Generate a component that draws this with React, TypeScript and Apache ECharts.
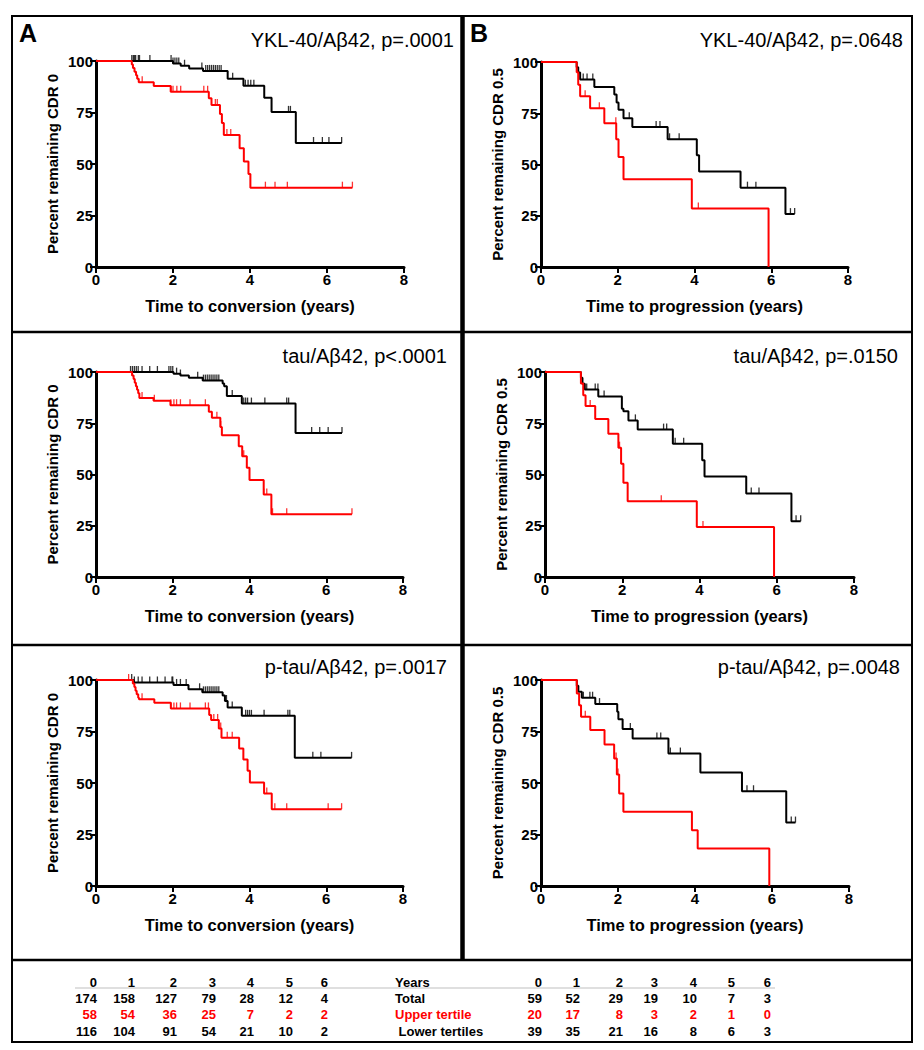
import React, { useEffect, useRef } from "react";
import * as echarts from "echarts";

type Pt = [number, number];

// ---------- Kaplan-Meier step points [years, percent] ----------
// Panel A (CDR 0 -> conversion)
const yklCdr0Lower: Pt[] = [[0, 100], [2.0, 98.8], [2.2, 97.7], [2.42, 96.4], [2.78, 95.2], [3.42, 91.4], [3.83, 88.0], [4.37, 82.2], [4.56, 75.3], [5.19, 60.2], [6.38, 60.2]];
const yklCdr0LowerCens: number[] = [0.93, 0.97, 1.0, 1.03, 1.1, 1.13, 1.4, 1.95, 2.0, 2.05, 2.1, 2.15, 2.3, 2.75, 2.85, 2.9, 2.95, 3.0, 3.05, 3.1, 3.15, 3.2, 3.25, 3.55, 3.88, 3.95, 4.02, 4.1, 5.0, 5.05, 5.65, 5.88, 6.05, 6.38];
const yklCdr0Upper: Pt[] = [[0, 100], [0.93, 98.3], [0.96, 96.6], [1.0, 94.8], [1.04, 93.1], [1.07, 91.4], [1.11, 89.7], [1.5, 87.9], [1.94, 85.1], [2.93, 81.9], [3.0, 78.6], [3.22, 74.3], [3.27, 69.9], [3.32, 64.1], [3.73, 57.6], [3.84, 51.2], [3.96, 45.1], [4.01, 38.5], [6.66, 38.5]];
const yklCdr0UpperCens: number[] = [1.2, 1.95, 2.0, 2.1, 2.2, 2.8, 2.9, 3.1, 3.15, 3.4, 3.5, 4.4, 4.65, 4.97, 6.4, 6.66];

const tauCdr0Lower: Pt[] = [[0, 100], [2.02, 99.2], [2.2, 98.3], [2.42, 97.2], [2.78, 95.8], [3.3, 94.4], [3.34, 93.1], [3.41, 88.3], [3.8, 84.6], [5.2, 70.2], [6.41, 70.2]];
const tauCdr0LowerCens: number[] = [0.9, 0.95, 1.0, 1.05, 1.1, 1.2, 1.4, 1.6, 1.9, 1.95, 2.0, 2.1, 2.2, 2.65, 2.8, 2.85, 2.9, 2.95, 3.0, 3.05, 3.1, 3.15, 3.2, 3.55, 3.85, 3.9, 3.95, 4.05, 4.4, 4.97, 5.02, 5.62, 5.83, 6.05, 6.41];
const tauCdr0Upper: Pt[] = [[0, 100], [0.94, 98.3], [0.98, 96.6], [1.01, 94.8], [1.04, 93.1], [1.07, 91.4], [1.1, 89.6], [1.13, 87.3], [1.5, 86.0], [1.94, 83.8], [2.94, 80.6], [3.02, 77.7], [3.24, 73.2], [3.28, 69.2], [3.72, 63.8], [3.81, 58.9], [3.93, 53.3], [4.0, 47.3], [4.37, 40.3], [4.57, 30.6], [6.67, 30.6]];
const tauCdr0UpperCens: number[] = [1.2, 1.52, 1.95, 2.03, 2.1, 2.2, 2.45, 2.85, 3.15, 3.25, 3.85, 4.37, 4.45, 4.6, 4.97, 6.67];

const ptauCdr0Lower: Pt[] = [[0, 100], [0.98, 98.8], [2.02, 97.6], [2.41, 95.5], [2.77, 94.0], [3.3, 92.5], [3.36, 89.8], [3.43, 86.6], [3.8, 82.6], [5.18, 62.2], [6.66, 62.2]];
const ptauCdr0LowerCens: number[] = [0.93, 1.0, 1.1, 1.2, 1.4, 1.6, 1.8, 1.98, 2.0, 2.1, 2.2, 2.35, 2.7, 2.8, 2.85, 2.9, 2.95, 3.0, 3.05, 3.1, 3.15, 3.2, 3.4, 3.55, 3.9, 3.95, 4.0, 4.05, 4.38, 5.0, 5.05, 5.65, 5.86, 6.66];
const ptauCdr0Upper: Pt[] = [[0, 100], [0.96, 98.3], [1.0, 96.6], [1.03, 94.8], [1.06, 93.1], [1.1, 91.4], [1.12, 90.6], [1.52, 89.0], [1.95, 86.2], [2.95, 83.0], [3.0, 80.6], [3.2, 76.5], [3.27, 72.0], [3.73, 66.8], [3.84, 61.4], [3.95, 55.9], [4.01, 50.2], [4.38, 44.9], [4.58, 37.3], [6.4, 37.3]];
const ptauCdr0UpperCens: number[] = [0.85, 1.2, 1.95, 2.03, 2.1, 2.2, 2.45, 2.85, 2.93, 3.07, 3.17, 3.25, 3.42, 3.55, 4.45, 4.66, 4.97, 6.05, 6.4];

// Panel B (CDR 0.5 -> progression)
const yklCdr05Lower: Pt[] = [[0, 100], [0.93, 97.4], [0.97, 94.9], [1.02, 91.5], [1.39, 87.8], [1.91, 84.2], [1.97, 80.2], [2.02, 76.7], [2.15, 72.6], [2.38, 68.3], [3.3, 62.3], [4.06, 54.5], [4.12, 46.6], [5.2, 38.7], [6.37, 25.8], [6.61, 25.8]];
const yklCdr05LowerCens: number[] = [1.1, 1.2, 1.35, 2.3, 3.0, 3.1, 3.35, 3.6, 5.38, 5.6, 6.5, 6.61];
const yklCdr05Upper: Pt[] = [[0, 100], [0.93, 95.0], [0.97, 88.9], [1.02, 83.3], [1.28, 77.4], [1.65, 70.1], [1.96, 62.3], [2.02, 53.6], [2.15, 42.8], [3.93, 28.5], [5.93, 0]];
const yklCdr05UpperCens: number[] = [1.15, 1.52, 1.95, 4.1];

const tauCdr05Lower: Pt[] = [[0, 100], [0.93, 97.2], [0.97, 94.3], [1.03, 91.5], [1.38, 88.1], [1.99, 82.1], [2.03, 80.8], [2.16, 76.4], [2.4, 71.9], [3.31, 65.0], [4.07, 56.9], [4.13, 49.0], [5.21, 40.7], [6.38, 27.2], [6.62, 27.2]];
const tauCdr05LowerCens: number[] = [1.08, 1.3, 1.37, 1.53, 2.34, 3.07, 3.15, 3.37, 3.59, 5.34, 5.54, 6.5, 6.62];
const tauCdr05Upper: Pt[] = [[0, 100], [0.93, 94.4], [0.99, 88.6], [1.05, 83.4], [1.3, 77.1], [1.64, 69.9], [1.9, 63.1], [1.97, 55.3], [2.03, 46.0], [2.14, 36.9], [3.93, 24.4], [5.93, 0]];
const tauCdr05UpperCens: number[] = [1.17, 1.93, 3.01, 4.09];

const ptauCdr05Lower: Pt[] = [[0, 100], [0.93, 97.2], [0.97, 94.3], [1.06, 91.4], [1.41, 88.3], [1.98, 84.6], [2.01, 80.9], [2.12, 76.2], [2.38, 71.6], [3.31, 64.3], [4.14, 55.1], [5.22, 46.0], [6.37, 30.8], [6.61, 30.8]];
const ptauCdr05LowerCens: number[] = [1.1, 1.27, 1.34, 1.52, 2.32, 3.01, 3.11, 3.36, 3.62, 5.35, 5.52, 6.5, 6.61];
const ptauCdr05Upper: Pt[] = [[0, 100], [0.93, 93.5], [0.99, 87.8], [1.04, 82.2], [1.28, 75.7], [1.65, 68.7], [1.9, 61.9], [1.97, 54.1], [2.03, 44.9], [2.14, 36.0], [3.92, 27.1], [4.07, 18.2], [5.93, 0]];
const ptauCdr05UpperCens: number[] = [1.15, 1.95, 2.0];

// ---------- Texts ----------
const panelTitles = ["YKL-40/Aβ42, p=.0001", "YKL-40/Aβ42, p=.0648", "tau/Aβ42, p<.0001", "tau/Aβ42, p=.0150", "p-tau/Aβ42, p=.0017", "p-tau/Aβ42, p=.0048"];
const yNameA = "Percent remaining CDR 0";
const yNameB = "Percent remaining CDR 0.5";
const xNameA = "Time to conversion (years)";
const xNameB = "Time to progression (years)";

// ---------- Numbers at risk ----------
const years = [0, 1, 2, 3, 4, 5, 6];
const cdr0Total = [174, 158, 127, 79, 28, 12, 4];
const cdr0Upper = [58, 54, 36, 25, 7, 2, 2];
const cdr0Lower = [116, 104, 91, 54, 21, 10, 2];
const cdr05Total = [59, 52, 29, 19, 10, 7, 3];
const cdr05Upper = [20, 17, 8, 3, 2, 1, 0];
const cdr05Lower = [39, 35, 21, 16, 8, 6, 3];
const rowLabels = ["Years", "Total", "Upper tertile", " Lower tertiles"];

// ---------- Layout ----------
const FONT = "'Liberation Sans', Arial, sans-serif";
const RED = "#ff0000";
const grids = [
  { left: 96, top: 61, width: 308, height: 206 },
  { left: 541, top: 62, width: 307, height: 205 },
  { left: 96, top: 372, width: 307, height: 205 },
  { left: 545, top: 372, width: 309, height: 205 },
  { left: 96, top: 680, width: 307, height: 206 },
  { left: 541, top: 680, width: 308, height: 206 },
];
const titlePos = [[454, 40], [903, 40], [447, 356], [898, 356], [447, 667], [900, 667]];
const colLeft = [97, 135, 177, 216, 254, 293, 328];
const colRight = [542, 580, 623, 658, 697, 735, 771];
const rowY = [982, 998, 1014, 1031];

function levelAt(curve: Pt[], t: number): number {
  let v = curve[0][1];
  for (const [x, y] of curve) {
    if (x <= t) v = y;
    else break;
  }
  return v;
}

const panels = [
  { lower: yklCdr0Lower, lowerC: yklCdr0LowerCens, upper: yklCdr0Upper, upperC: yklCdr0UpperCens, yName: yNameA, xName: xNameA },
  { lower: yklCdr05Lower, lowerC: yklCdr05LowerCens, upper: yklCdr05Upper, upperC: yklCdr05UpperCens, yName: yNameB, xName: xNameB },
  { lower: tauCdr0Lower, lowerC: tauCdr0LowerCens, upper: tauCdr0Upper, upperC: tauCdr0UpperCens, yName: yNameA, xName: xNameA },
  { lower: tauCdr05Lower, lowerC: tauCdr05LowerCens, upper: tauCdr05Upper, upperC: tauCdr05UpperCens, yName: yNameB, xName: xNameB },
  { lower: ptauCdr0Lower, lowerC: ptauCdr0LowerCens, upper: ptauCdr0Upper, upperC: ptauCdr0UpperCens, yName: yNameA, xName: xNameA },
  { lower: ptauCdr05Lower, lowerC: ptauCdr05LowerCens, upper: ptauCdr05Upper, upperC: ptauCdr05UpperCens, yName: yNameB, xName: xNameB },
];

function buildOption() {
  const axisCommon = {
    axisLine: { show: true, onZero: false, lineStyle: { color: "#000", width: 3 } },
    axisTick: { show: true, length: 6, lineStyle: { color: "#000", width: 2 } },
    axisLabel: { color: "#000", fontWeight: "bold", fontSize: 15, fontFamily: FONT },
    splitLine: { show: false },
    nameLocation: "middle",
  };
  const xAxis = panels.map((p, i) => ({
    ...axisCommon,
    type: "value",
    gridIndex: i,
    min: 0,
    max: 8,
    interval: 2,
    name: p.xName,
    nameGap: 30,
    nameTextStyle: { color: "#000", fontWeight: "bold", fontSize: 16.5, fontFamily: FONT },
    axisLabel: { ...axisCommon.axisLabel, margin: 5 },
  }));
  const yAxis = panels.map((p, i) => ({
    ...axisCommon,
    type: "value",
    gridIndex: i,
    min: 0,
    max: 100,
    interval: 25,
    name: p.yName,
    nameGap: 36,
    nameTextStyle: { color: "#000", fontWeight: "bold", fontSize: 15, fontFamily: FONT },
    axisLabel: { ...axisCommon.axisLabel, margin: 3 },
  }));
  const series: any[] = [];
  panels.forEach((p, i) => {
    const mk = (curve: Pt[], cens: number[], color: string) => {
      series.push({
        type: "line",
        xAxisIndex: i,
        yAxisIndex: i,
        data: curve,
        step: "end",
        showSymbol: false,
        symbol: "none",
        clip: false,
        lineStyle: { color, width: 2 },
        z: color === RED ? 4 : 3,
      });
      series.push({
        type: "scatter",
        xAxisIndex: i,
        yAxisIndex: i,
        data: cens.map((t) => [t, levelAt(curve, t)]),
        symbol: "rect",
        symbolSize: [1.3, 6],
        symbolOffset: [0, -3],
        clip: false,
        itemStyle: { color },
        z: color === RED ? 4 : 3,
      });
    };
    mk(p.lower, p.lowerC, "#000");
    mk(p.upper, p.upperC, RED);
  });

  const graphic: any[] = [];
  const ln = (x1: number, y1: number, x2: number, y2: number, w: number, color = "#000") =>
    graphic.push({ type: "line", shape: { x1, y1, x2, y2 }, style: { stroke: color, lineWidth: w }, silent: true });
  graphic.push({ type: "rect", shape: { x: 12, y: 16, width: 900, height: 1026 }, style: { fill: "none", stroke: "#000", lineWidth: 2 }, silent: true });
  ln(462.5, 16, 462.5, 960, 4.5);
  ln(12, 332, 912, 332, 2.5);
  ln(12, 645, 912, 645, 2.5);
  ln(12, 960, 912, 960, 2.5);
  graphic.push({ type: "text", style: { text: "A", x: 19, y: 33, textVerticalAlign: "middle", font: `bold 25px ${FONT}`, fill: "#000" } });
  graphic.push({ type: "text", style: { text: "B", x: 470, y: 33, textVerticalAlign: "middle", font: `bold 25px ${FONT}`, fill: "#000" } });
  panelTitles.forEach((t, i) => {
    graphic.push({ type: "text", style: { text: t, x: titlePos[i][0], y: titlePos[i][1], textAlign: "right", textVerticalAlign: "middle", font: `20px ${FONT}`, fill: "#000" } });
  });
  ln(75, 988, 775, 988, 1.5, "#d4d4d4");
  const tableText = (text: string, x: number, y: number, color: string, align = "right") =>
    graphic.push({ type: "text", style: { text, x, y, textAlign: align, textVerticalAlign: "middle", font: `bold 13px ${FONT}`, fill: color } });
  const leftRows = [years, cdr0Total, cdr0Upper, cdr0Lower];
  const rightRows = [years, cdr05Total, cdr05Upper, cdr05Lower];
  leftRows.forEach((row, r) => row.forEach((v, c) => tableText(String(v), colLeft[c], rowY[r], r === 2 ? RED : "#000")));
  rightRows.forEach((row, r) => row.forEach((v, c) => tableText(String(v), colRight[c], rowY[r], r === 2 ? RED : "#000")));
  rowLabels.forEach((lab, r) => tableText(lab, 395, rowY[r], r === 2 ? RED : "#000", "left"));

  return {
    animation: false,
    backgroundColor: "#fff",
    grid: grids.map((g) => ({ ...g, containLabel: false })),
    xAxis,
    yAxis,
    series,
    graphic,
  };
}

export default function App() {
  const ref = useRef<HTMLDivElement>(null);
  useEffect(() => {
    if (!ref.current) return;
    const chart = echarts.init(ref.current, undefined, { renderer: "svg" });
    chart.setOption(buildOption() as any);
    return () => chart.dispose();
  }, []);
  return <div ref={ref} style={{ position: "absolute", left: 0, top: 0, width: 924, height: 1050 }} />;
}
